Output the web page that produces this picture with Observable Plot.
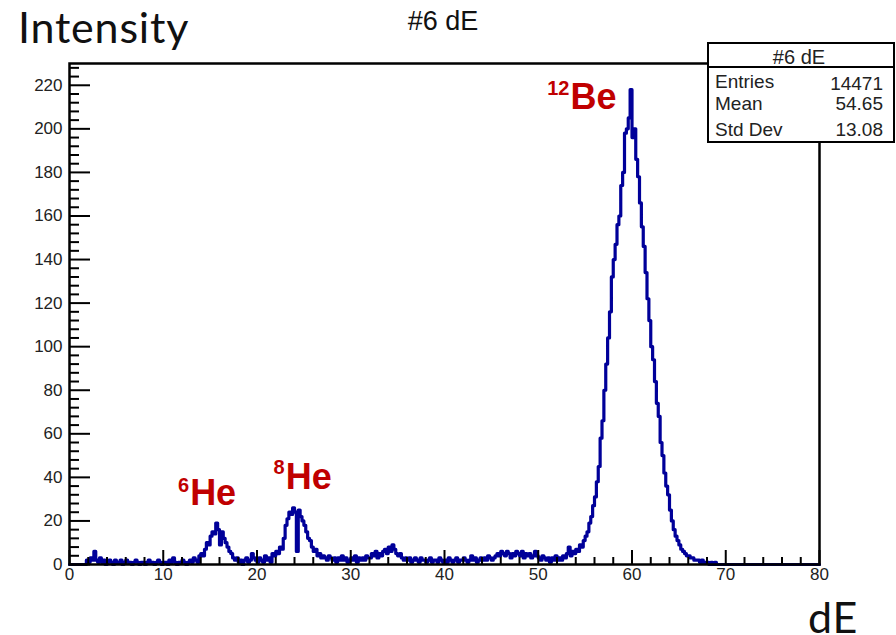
<!DOCTYPE html>
<html>
<head>
<meta charset="utf-8">
<script src="https://cdn.jsdelivr.net/npm/d3@7"></script>
<script src="https://cdn.jsdelivr.net/npm/@observablehq/plot@0.6"></script>
<style>
  body { margin: 0; background: #fff; }
  #wrap { position: relative; width: 896px; height: 635px; overflow: hidden;
          font-family: "Liberation Sans", Arial, sans-serif; }
  #chart { position: absolute; left: 0; top: 0; }
  .big { position: absolute; font-family: Lato, "Open Sans", sans-serif; font-size: 43px;
         line-height: 1; color: #111; white-space: nowrap; letter-spacing: 0.8px; }
  #xlab { line-height: 32px; }
  #title { position: absolute; left: 343px; width: 200px; top: 8px; text-align: center;
           font-size: 27px; line-height: 1; color: #111; }
  #stats { position: absolute; left: 707px; top: 42px; width: 188px; height: 101px;
           box-sizing: border-box; border: 2px solid #000; background: #fff; }
  #stats div { position: absolute; font-size: 19px; line-height: 0.8; color: #222; white-space: nowrap; }
  #stats .sep { left: 0; right: 0; top: 21.5px; height: 2px; background: #000; }
  #stats .head { left: 0; right: 4px; text-align: center; top: 5px; font-size: 20px; }
  #stats .lab { left: 6px; }
  #stats .val { right: 10px; text-align: right; }
</style>
</head>
<body>
<div id="wrap">
  <div id="chart"></div>
  <div class="big" id="ylab" style="left:18px; top:4.5px;">Intensity</div>
  <div id="title">#6 dE</div>
  <div class="big" id="xlab" style="left:808px; top:600.5px;">dE</div>
  <div id="stats"></div>
</div>
<script>
// Histogram of dE: counts per 0.2-wide bin from 0 to 80
const binWidth = 0.2;
const counts = [
  0, 0, 0, 0, 0, 0, 0, 0, 0, 2,            // 0-2
  1, 3, 2, 6, 2, 1, 3, 1, 2, 0,            // 2-4
  1, 2, 1, 0, 2, 1, 1, 2, 0, 1,            // 4-6
  2, 1, 1, 0, 1, 2, 1, 0, 1, 1,            // 6-8
  0, 1, 2, 1, 1, 0, 1, 2, 1, 0,            // 8-10
  1, 1, 0, 2, 1, 3, 1, 0, 1, 1,            // 10-12
  2, 1, 0, 1, 2, 1, 3, 2, 1, 4,            // 12-14
  5, 4, 7, 10, 9, 13, 15, 14, 19, 16,      // 14-16
  9, 15, 12, 10, 8, 6, 5, 3, 2, 3,         // 16-18
  1, 2, 0, 2, 3, 1, 2, 5, 3, 2,            // 18-20
  1, 3, 2, 1, 4, 2, 3, 1, 5, 4,            // 20-22
  6, 5, 8, 7, 12, 18, 21, 24, 23, 26,      // 22-24
  24, 6, 25, 22, 20, 18, 15, 12, 11, 8,    // 24-26
  6, 7, 4, 5, 3, 4, 3, 2, 4, 3,            // 26-28
  2, 3, 1, 3, 2, 4, 2, 3, 1, 2,            // 28-30
  3, 2, 4, 1, 3, 2, 3, 2, 4, 3,            // 30-32
  3, 5, 4, 6, 3, 5, 4, 6, 7, 5,            // 32-34
  8, 6, 9, 7, 5, 4, 5, 3, 2, 3,            // 34-36
  2, 3, 1, 2, 3, 2, 1, 3, 2, 2,            // 36-38
  1, 2, 3, 1, 2, 2, 1, 3, 2, 1,            // 38-40
  2, 1, 3, 2, 1, 2, 3, 1, 2, 2,            // 40-42
  3, 2, 1, 2, 4, 2, 3, 1, 2, 3,            // 42-44
  2, 3, 2, 4, 3, 2, 3, 4, 5, 4,            // 44-46
  6, 5, 4, 6, 5, 3, 5, 4, 6, 5,            // 46-48
  4, 6, 3, 5, 4, 5, 3, 4, 6, 4,            // 48-50
  3, 2, 4, 3, 2, 3, 1, 3, 2, 4,            // 50-52
  2, 3, 2, 4, 3, 5, 8, 4, 6, 5,            // 52-54
  7, 6, 9, 8, 11, 13, 15, 19, 22, 27,      // 54-56
  31, 38, 45, 58, 66, 80, 92, 104, 116, 132,       // 56-58
  140, 147, 156, 160, 174, 180, 198, 200, 205, 218,// 58-60
  196, 200, 186, 178, 166, 155, 146, 134, 122, 112,// 60-62
  100, 94, 84, 74, 68, 56, 50, 42, 36, 32, // 62-64
  25, 20, 16, 13, 11, 9, 7, 6, 5, 4,       // 64-66
  4, 3, 3, 2, 2, 2, 1, 2, 1, 1,            // 66-68
  1, 0, 1, 0, 1, 0, 0, 0, 0, 0,            // 68-70
  0, 0, 0, 0, 0, 0, 0, 0, 0, 0,            // 70-72
  0, 0, 0, 0, 0, 0, 0, 0, 0, 0,            // 72-74
  0, 0, 0, 0, 0, 0, 0, 0, 0, 0,            // 74-76
  0, 0, 0, 0, 0, 0, 0, 0, 0, 0,            // 76-78
  0, 0, 0, 0, 0, 0, 0, 0, 0, 0             // 78-80
];

// Axis ticks
const xMajor = [0, 10, 20, 30, 40, 50, 60, 70, 80];
const yMajor = [0, 20, 40, 60, 80, 100, 120, 140, 160, 180, 200, 220];
const xMinor = d3.range(0, 81, 2).filter(v => v % 10 !== 0);
const yMinor = d3.range(0, 230, 4).filter(v => v % 20 !== 0);

// Peak annotations (dE, intensity of the label anchor)
const isoMass = ["6", "8", "12"];
const isoSymbol = ["He", "He", "Be"];
const isoAt = [12.76, 22.95, 53.33];
const isoLevel = [32.6, 39.9, 214.2];
const isoLevelSup = [36.0, 44.3, 218.6];

// Statistics box
const statTitle = "#6 dE";
const statNames = ["Entries", "Mean", "Std Dev"];
const statValues = ["14471", "54.65", "13.08"];

const steps = counts.map((c, i) => ({x: i * binWidth, y: c}));
steps.push({x: counts.length * binWidth, y: counts[counts.length - 1]});

const isotopes = isoMass.map((m, i) => ({
  mass: m, symbol: isoSymbol[i], at: isoAt[i], level: isoLevel[i], levelSup: isoLevelSup[i]
}));

const W = 896, H = 635, mL = 69, mR = 77, mT = 63, mB = 71;
const fw = W - mL - mR, fh = H - mT - mB;
const ink = "#000";
const red = "#c00000";

const chart = Plot.plot({
  width: W, height: H,
  marginLeft: mL, marginRight: mR, marginTop: mT, marginBottom: mB,
  x: {domain: [0, 80], axis: null},
  y: {domain: [0, 230], axis: null},
  style: {fontFamily: "'Liberation Sans', Arial, sans-serif", background: "transparent", overflow: "visible"},
  marks: [
    Plot.line(steps, {x: "x", y: "y", curve: "step-after", stroke: "#000099", strokeWidth: 3.2}),
    Plot.ruleY(yMinor, {y: d => d, insetRight: fw - 10, stroke: ink, strokeWidth: 2}),
    Plot.ruleY(yMajor, {y: d => d, insetRight: fw - 21, stroke: ink, strokeWidth: 2}),
    Plot.ruleX(xMinor, {x: d => d, insetTop: fh - 7, stroke: ink, strokeWidth: 2}),
    Plot.ruleX(xMajor, {x: d => d, insetTop: fh - 14, stroke: ink, strokeWidth: 2}),
    Plot.frame({stroke: ink, strokeWidth: 2.5}),
    Plot.text(yMajor, {y: d => d, text: d => String(d), frameAnchor: "left", textAnchor: "end",
      dx: -7, fontSize: 17, fill: "#222"}),
    Plot.text(xMajor, {x: d => d, text: d => String(d), frameAnchor: "bottom",
      dy: 15, fontSize: 17, fill: "#222"}),
    Plot.text(isotopes, {x: "at", y: "level", text: "symbol", textAnchor: "start", dx: 1,
      fontSize: 36, fontWeight: "bold", fill: red}),
    Plot.text(isotopes, {x: "at", y: "levelSup", text: "mass", textAnchor: "end",
      fontSize: 20, fontWeight: "bold", fill: red})
  ]
});
document.getElementById("chart").appendChild(chart);

// Statistics box contents
const stats = document.getElementById("stats");
const add = (cls, txt, top) => {
  const d = document.createElement("div");
  d.className = cls; d.textContent = txt;
  if (top != null) d.style.top = top + "px";
  stats.appendChild(d);
};
add("head", statTitle);
add("sep", "");
const labelTops = [30, 52, 78];
const valueTops = [32, 52, 78];
statNames.forEach((n, i) => add("lab", n, labelTops[i]));
statValues.forEach((v, i) => add("val", v, valueTops[i]));
</script>
</body>
</html>
